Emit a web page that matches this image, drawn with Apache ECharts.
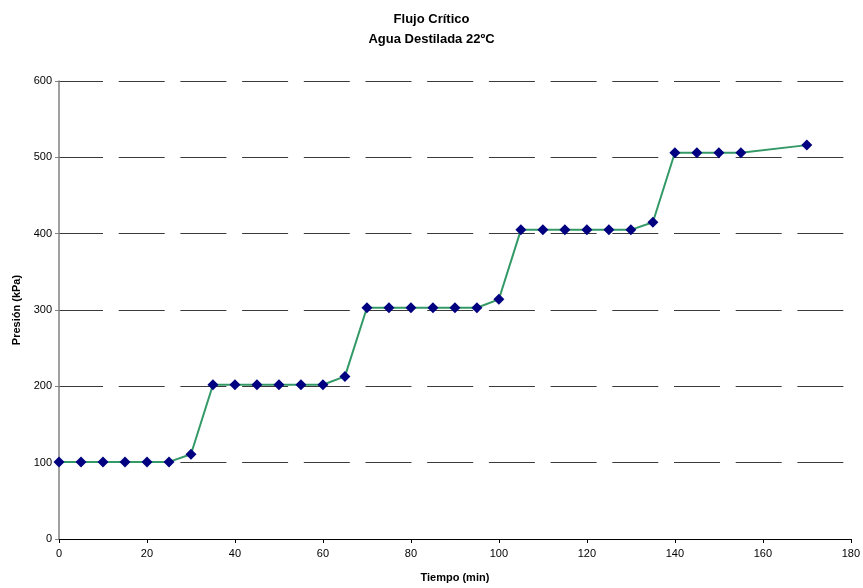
<!DOCTYPE html>
<html>
<head>
<meta charset="utf-8">
<script src="https://cdn.jsdelivr.net/npm/echarts@6/dist/echarts.min.js"></script>
<style>
  html, body { margin: 0; padding: 0; background: #fff; }
  #chart { width: 863px; height: 588px; }
</style>
</head>
<body>
<div id="chart"></div>
<script>
// Tiempo (min) of each reading
var tiempo = [0, 5, 10, 15, 20, 25, 30, 35, 40, 45, 50, 55, 60, 65, 70, 75, 80, 85, 90, 95,
              100, 105, 110, 115, 120, 125, 130, 135, 140, 145, 150, 155, 170];
// Presión (kPa) at each reading
var presion = [101, 101, 101, 101, 101, 101, 111, 202, 202, 202, 202, 202, 202, 213, 303, 303, 303, 303, 303, 303,
               314, 405, 405, 405, 405, 405, 405, 415, 506, 506, 506, 506, 516];

var points = tiempo.map(function (t, i) { return [t, presion[i]]; });

var font = 'Liberation Sans, Arial, sans-serif';
var chart = echarts.init(document.getElementById('chart'), null, { renderer: 'canvas' });
chart.setOption({
  animation: false,
  title: {
    text: 'Flujo Crítico\nAgua Destilada 22ºC',
    left: 'center',
    top: 4,
    textStyle: { fontFamily: font, fontSize: 13, fontWeight: 'bold', color: '#000', lineHeight: 20 }
  },
  grid: { left: 59, right: 10, top: 81, bottom: 49, containLabel: false },
  xAxis: {
    type: 'value',
    min: 0, max: 180, interval: 20,
    name: 'Tiempo (min)',
    nameLocation: 'middle',
    nameGap: 33,
    nameTextStyle: { fontFamily: font, fontSize: 11, fontWeight: 'bold', color: '#000' },
    axisLine: { show: true, onZero: false, lineStyle: { color: '#000', width: 1 } },
    axisTick: { show: true, inside: false, length: 4, lineStyle: { color: '#000' } },
    axisLabel: { fontFamily: font, fontSize: 11, color: '#000', margin: 9 },
    splitLine: { show: false }
  },
  yAxis: {
    type: 'value',
    min: 0, max: 600, interval: 100,
    name: 'Presión (kPa)',
    nameLocation: 'middle',
    nameGap: 36,
    nameRotate: 90,
    nameTextStyle: { fontFamily: font, fontSize: 11, fontWeight: 'bold', color: '#000' },
    axisLine: { show: true, lineStyle: { color: '#808080', width: 1.5 } },
    axisTick: { show: true, inside: false, length: 4, lineStyle: { color: '#808080' } },
    axisLabel: { fontFamily: font, fontSize: 11, color: '#000', margin: 7 },
    splitLine: {
      show: true,
      lineStyle: { color: '#3a3a3a', width: 1, type: [46, 15.7], dashOffset: 2 }
    }
  },
  series: [{
    type: 'line',
    data: points,
    symbol: 'diamond',
    symbolSize: 11,
    itemStyle: { color: '#000080' },
    lineStyle: { color: '#339966', width: 2 },
    z: 3
  }]
});
</script>
</body>
</html>
